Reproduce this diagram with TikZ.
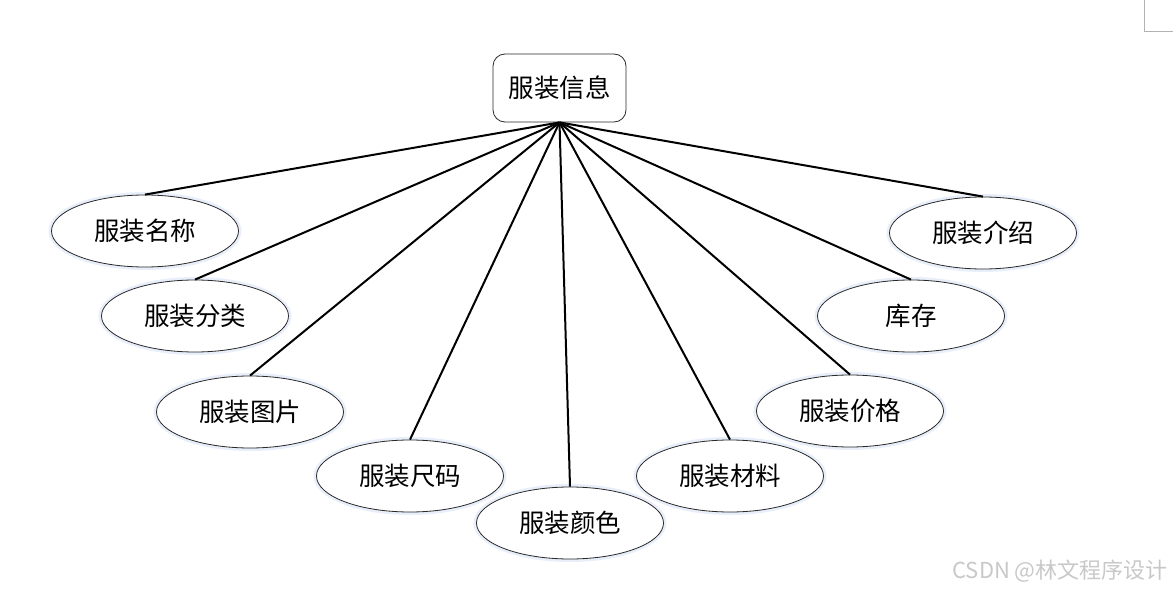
\documentclass[tikz,border=0pt]{standalone}
\usepackage{fontspec}
\newfontfamily\cjk{Noto Sans CJK SC}
\usetikzlibrary{shapes.geometric}
\definecolor{glow}{RGB}{232,239,250}
\definecolor{wm}{RGB}{200,200,200}
\definecolor{edgegray}{RGB}{40,40,40}
\tikzset{
  attr/.style={ellipse, draw=edgegray, line width=0.8pt, fill=white, minimum width=187pt, minimum height=72pt, inner sep=0pt, font=\cjk\fontsize{25.5}{25.5}\selectfont},
  rootbox/.style={rectangle, rounded corners=12pt, draw=edgegray, line width=0.8pt, fill=white, minimum width=133pt, minimum height=68pt, inner sep=0pt, font=\cjk\fontsize{25.5}{25.5}\selectfont},
  link/.style={line width=2pt, black},
  halo/.style={ellipse, draw=glow, line width=4pt, minimum width=189pt, minimum height=74pt}
}
\begin{document}
\begin{tikzpicture}[x=1pt,y=-1pt]
\useasboundingbox (0,0) rectangle (1173,591);
% halos
\foreach \p in {(145,231),(195,316),(250,412),(410,476),(570,523),(730,476),(850,411),(911,316),(983,233)}
  \node[halo] at \p {};
\node[rootbox] (root) at (559.5,88) {服装信息};
\node[attr] (a1) at (145,231) {服装名称};
\node[attr] (a2) at (195,316) {服装分类};
\node[attr] (a3) at (250,412) {服装图片};
\node[attr] (a4) at (410,476) {服装尺码};
\node[attr] (a5) at (570,523) {服装颜色};
\node[attr] (a6) at (730,476) {服装材料};
\node[attr] (a7) at (850,411) {服装价格};
\node[attr] (a8) at (911,316) {库存};
\node[attr] (a9) at (983,233) {服装介绍};
\foreach \n in {a1,a2,a3,a4,a5,a6,a7,a8,a9}
  \draw[link] (root.south) -- (\n.north);
\node[anchor=south east, inner sep=0pt, text=wm, font=\cjk\fontsize{22}{22}\selectfont] (wmk) at (1168,583) {CSDN @林文程序设计};
\coordinate (c1) at (1144,0);
\coordinate (c2) at (1144,31);
\coordinate (c3) at (1173,31);
\draw[gray!60, line width=0.8pt] (c1) -- (c2) -- (c3);
\end{tikzpicture}
\end{document}
